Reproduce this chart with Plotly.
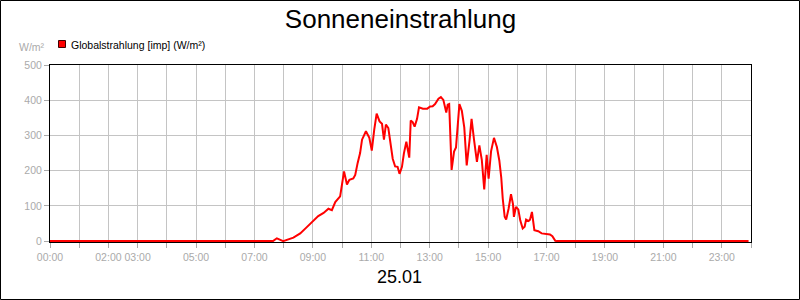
import plotly.graph_objects as go

# ---------------- data ----------------
TITLE = "Sonneneinstrahlung"
SERIES_NAME = "Globalstrahlung [imp] (W/m²)"
UNIT = "W/m²"
DATE_LABEL = "25.01"

TIMES = [
    "00:00", "07:38", "07:46", "07:59", "08:20", "08:34", "08:47", "09:01", "09:11",
    "09:22", "09:32", "09:39", "09:46", "09:56", "10:01", "10:04", "10:10", "10:15",
    "10:23", "10:27", "10:32", "10:37", "10:41", "10:49", "10:56", "11:01", "11:06",
    "11:11", "11:17", "11:22", "11:26", "11:30", "11:35", "11:40", "11:44", "11:49",
    "11:54", "11:58", "12:03", "12:07", "12:12", "12:18", "12:21", "12:25", "12:29",
    "12:34", "12:38", "12:46", "12:55", "13:01", "13:06", "13:11", "13:18", "13:23",
    "13:28", "13:34", "13:37", "13:40", "13:45", "13:50", "13:54", "14:01", "14:06",
    "14:11", "14:16", "14:22", "14:26", "14:31", "14:37", "14:42", "14:47", "14:52",
    "14:57", "15:01", "15:06", "15:12", "15:18", "15:23", "15:27", "15:30", "15:34",
    "15:37", "15:42", "15:47", "15:51", "15:53", "15:57", "16:02", "16:06", "16:11",
    "16:15", "16:18", "16:23", "16:26", "16:30", "16:35", "16:43", "16:50", "17:01",
    "17:07", "17:12", "17:18", "17:21", "23:55",
]
VALUES = [
    0, 0, 8, 0, 10, 22, 39, 57, 71,
    80, 92, 88, 111, 127, 168, 198, 161, 174,
    178, 188, 222, 250, 288, 312, 293, 257, 316,
    362, 340, 333, 288, 331, 321, 269, 234, 212,
    211, 191, 211, 249, 282, 237, 342, 338, 325,
    347, 380, 376, 376, 382, 383, 389, 404, 409,
    401, 365, 387, 389, 202, 254, 266, 389, 370,
    323, 215, 288, 347, 288, 225, 272, 231, 147,
    245, 177, 255, 293, 267, 229, 180, 121, 69,
    61, 92, 133, 106, 69, 97, 90, 59, 36,
    41, 61, 57, 61, 83, 31, 28, 22, 19,
    19, 14, 1, 0, 0,
]

HOUR_TICKS = list(range(0, 25))
LABELED_HOURS = [0, 2, 3, 5, 7, 9, 11, 13, 15, 17, 19, 21, 23]
Y_TICKS = [0, 100, 200, 300, 400, 500]

# ---------------- figure ----------------
hours = [int(t[:2]) + int(t[3:]) / 60 for t in TIMES]
tick_text = [f"{h:02d}:00" if h in LABELED_HOURS else "" for h in HOUR_TICKS]

W_FIG, H_FIG = 800, 300
L, R, T, B = 50, 49, 65, 58
PW, PH = W_FIG - L - R, H_FIG - T - B


def px_x(px):
    return (px - L) / PW


def px_y(py):
    return (T + PH - py) / PH


GRAY_TXT = "#aaaaaa"
GRID = "#c4c4c4"

fig = go.Figure()
fig.add_trace(go.Scatter(
    x=hours, y=VALUES, mode="lines", name=SERIES_NAME, showlegend=False,
    line=dict(color="#ff0000", width=2),
))

axis_common = dict(
    showgrid=True, gridcolor=GRID, gridwidth=1,
    ticks="outside", ticklen=5, tickcolor=GRAY_TXT,
    tickfont=dict(size=10.5, color=GRAY_TXT),
    showline=True, linecolor="black", linewidth=1, mirror=True,
    zeroline=False,
)

fig.update_layout(
    width=W_FIG, height=H_FIG,
    margin=dict(l=L, r=R, t=T, b=B, pad=0),
    paper_bgcolor="white", plot_bgcolor="white",
    font=dict(family="Liberation Sans, Arial, sans-serif", color="black"),
    title=dict(text=TITLE, x=0.5, xanchor="center", xref="paper",
               y=1 - 18.5 / H_FIG, yanchor="middle", yref="container",
               font=dict(size=26, color="black")),
    xaxis=dict(range=[0, 24], tickmode="array", tickvals=HOUR_TICKS,
               ticktext=tick_text, **axis_common),
    yaxis=dict(range=[-2.5, 500], tickmode="array", tickvals=Y_TICKS,
               **axis_common),
    shapes=[
        # outer frame of the whole image
        dict(type="rect", xref="paper", yref="paper",
             x0=px_x(0.5), x1=px_x(W_FIG - 0.5), y0=px_y(H_FIG - 0.5), y1=px_y(0.5),
             line=dict(color="black", width=1), fillcolor="rgba(0,0,0,0)"),
        # legend swatch
        dict(type="rect", xref="paper", yref="paper",
             x0=px_x(58.5), x1=px_x(65.5), y0=px_y(47.5), y1=px_y(40.5),
             line=dict(color="#400000", width=1), fillcolor="#ff0000"),
    ],
    annotations=[
        dict(text=SERIES_NAME, xref="paper", yref="paper", x=px_x(69), y=px_y(44.5),
             xanchor="left", yanchor="middle", showarrow=False,
             font=dict(size=10.5, color="black")),
        dict(text=UNIT, xref="paper", yref="paper", x=px_x(47), y=px_y(47),
             xanchor="right", yanchor="middle", showarrow=False,
             font=dict(size=10.5, color=GRAY_TXT)),
        dict(text=DATE_LABEL, xref="paper", yref="paper", x=px_x(399.5), y=px_y(277),
             xanchor="center", yanchor="middle", showarrow=False,
             font=dict(size=18, color="black")),
    ],
)

fig.write_html("out.html")
